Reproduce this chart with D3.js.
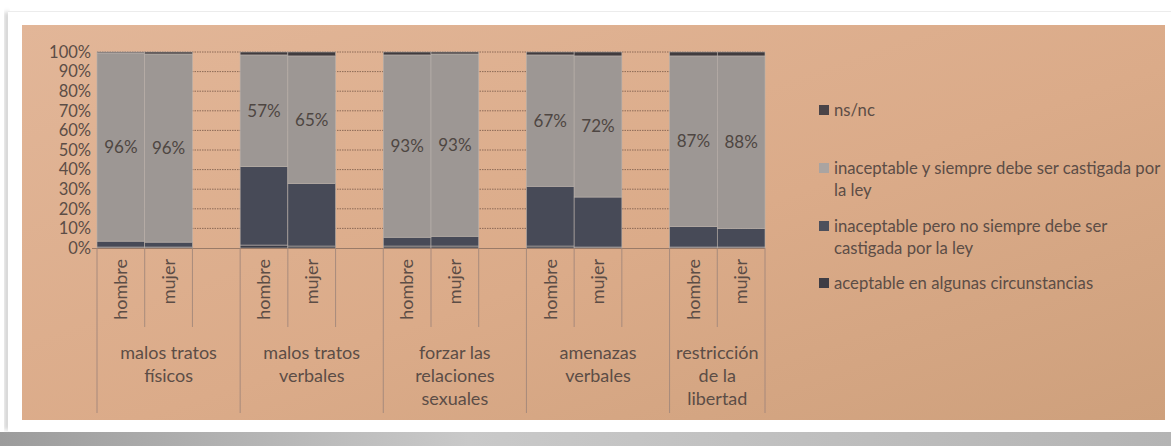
<!DOCTYPE html>
<html>
<head>
<meta charset="utf-8">
<script src="https://cdn.jsdelivr.net/npm/d3@7"></script>
<style>
  html, body { margin: 0; padding: 0; background: #fff; }
  svg { display: block; }
  text { font-family: Lato, "Open Sans", sans-serif; fill: #5c4d46; }
</style>
</head>
<body>
<div id="chart"></div>
<script>
// categories (multi-line labels as printed)
const groupLabels = [
  ["malos tratos", "físicos"],
  ["malos tratos", "verbales"],
  ["forzar las", "relaciones", "sexuales"],
  ["amenazas", "verbales"],
  ["restricción", "de la", "libertad"]
];
const sexes = ["hombre", "mujer"];

// series, bottom to top of each stack (one value per bar: g1 hombre, g1 mujer, g2 hombre, ...)
const seriesNames = [
  "aceptable en algunas circunstancias",
  "inaceptable pero no siempre debe ser castigada por la ley",
  "inaceptable y siempre debe ser castigada por la ley",
  "ns/nc"
];
const aceptable = [0.5, 0.5, 1.5, 1, 1, 1, 1, 0.5, 0.5, 0.5];
const peroNo    = [3, 2.5, 40, 32, 4.5, 5, 30.5, 25.5, 10.5, 9.5];
const siempre   = [96, 96, 57, 65, 93, 93, 67, 72, 87, 88];
const nsnc      = [0.5, 1, 1.5, 2, 1.5, 1, 1.5, 2, 2, 2];

// legend shows series top-down like the original
const legendLines = [
  ["ns/nc"],
  ["inaceptable y siempre debe ser castigada por", "la ley"],
  ["inaceptable pero no siempre debe ser", "castigada por la ley"],
  ["aceptable en algunas circunstancias"]
];

const yTicks = [0, 10, 20, 30, 40, 50, 60, 70, 80, 90, 100];

const W = 1171, H = 446;
const COLORS = {
  "aceptable en algunas circunstancias": "#3c3d47",
  "inaceptable pero no siempre debe ser castigada por la ley": "#474a57",
  "inaceptable y siempre debe ser castigada por la ley": "#9d9794",
  "ns/nc": "#403b3e"
};
const LEGEND_COLORS = ["#4a4448", "#aaa4a1", "#4d4f5b", "#3e3d45"];

const svg = d3.select("#chart").append("svg")
  .attr("width", W).attr("height", H);

const defs = svg.append("defs");
const bg = defs.append("linearGradient").attr("id", "paper")
  .attr("x1", "0%").attr("y1", "0%").attr("x2", "100%").attr("y2", "100%");
bg.append("stop").attr("offset", "0%").attr("stop-color", "#e2b698");
bg.append("stop").attr("offset", "55%").attr("stop-color", "#dbab89");
bg.append("stop").attr("offset", "100%").attr("stop-color", "#cea07c");

const shade = defs.append("linearGradient").attr("id", "shade")
  .attr("x1", "0%").attr("y1", "0%").attr("x2", "100%").attr("y2", "0%");
shade.append("stop").attr("offset", "0%").attr("stop-color", "#9c9c9c");
shade.append("stop").attr("offset", "40%").attr("stop-color", "#c9c9c9");
shade.append("stop").attr("offset", "100%").attr("stop-color", "#b4b4b4");

const blur = defs.append("filter").attr("id", "soft")
  .attr("x", "-5%").attr("y", "-50%").attr("width", "110%").attr("height", "200%");
blur.append("feGaussianBlur").attr("stdDeviation", 2);

// frame: shadow + white mat + peach print
svg.append("rect").attr("x", 0).attr("y", 432).attr("width", W).attr("height", 14)
  .attr("fill", "url(#shade)");
svg.append("rect").attr("x", 5).attr("y", 12).attr("width", 4).attr("height", 418)
  .attr("fill", "#c4c4c4").attr("filter", "url(#soft)");
svg.append("rect").attr("x", 8).attr("y", 11).attr("width", W - 8).attr("height", 420)
  .attr("fill", "#fff");
svg.append("line").attr("x1", 8).attr("x2", W).attr("y1", 11.5).attr("y2", 11.5)
  .attr("stroke", "#ececec");
svg.append("rect").attr("x", 22).attr("y", 25).attr("width", 1143).attr("height", 395)
  .attr("fill", "url(#paper)");

// scales
const slots = [];
groupLabels.forEach((g, gi) => {
  sexes.forEach(s => slots.push({ key: `${gi}-${s}`, group: gi, sex: s }));
  if (gi < groupLabels.length - 1) slots.push({ key: `${gi}-gap`, group: gi, sex: null });
});
const x = d3.scaleBand().domain(slots.map(d => d.key)).range([97, 765]).padding(0);
const y = d3.scaleLinear().domain([0, 100]).range([248, 52]);

// rows for stacking
const barKeys = slots.filter(d => d.sex).map(d => d.key);
const rows = barKeys.map((k, i) => ({
  key: k,
  [seriesNames[0]]: aceptable[i],
  [seriesNames[1]]: peroNo[i],
  [seriesNames[2]]: siempre[i],
  [seriesNames[3]]: nsnc[i]
}));
const stacked = d3.stack().keys(seriesNames)(rows);

// gridlines
const grid = svg.append("g");
grid.selectAll("line").data(yTicks.filter(t => t > 0)).join("line")
  .attr("x1", 97).attr("x2", 765)
  .attr("y1", d => y(d)).attr("y2", d => y(d))
  .attr("stroke", "#8c6a57").attr("stroke-width", 1)
  .attr("stroke-dasharray", "1.5,1");

// bars
const barG = svg.append("g");
barG.selectAll("g").data(stacked).join("g")
  .attr("fill", d => COLORS[d.key])
  .selectAll("rect").data(d => d).join("rect")
  .attr("x", d => x(d.data.key))
  .attr("width", x.bandwidth())
  .attr("y", d => y(d[1]))
  .attr("height", d => y(d[0]) - y(d[1]))
  .attr("stroke", "#b9b1ab").attr("stroke-width", 0.6);

// data labels on the "siempre" series
const lab = stacked[2];
svg.append("g").selectAll("text").data(lab).join("text")
  .attr("x", d => x(d.data.key) + x.bandwidth() / 2)
  .attr("y", d => y((d[0] + d[1]) / 2))
  .attr("dy", "0.35em")
  .attr("text-anchor", "middle")
  .style("font-size", "17px")
  .style("fill", "#4e4642")
  .text(d => d3.format(".0f")(d[1] - d[0]) + "%");

// y axis labels
svg.append("g").selectAll("text").data(yTicks).join("text")
  .attr("x", 91).attr("y", d => y(d)).attr("dy", "0.35em")
  .attr("text-anchor", "end")
  .style("font-size", "16.5px")
  .text(d => d + "%");

// x axis line
svg.append("line").attr("x1", 92).attr("x2", 765).attr("y1", 248.5).attr("y2", 248.5)
  .attr("stroke", "#9a7b68").attr("stroke-width", 1);

// category dividers below the axis
const bounds = [];
slots.forEach((s, i) => {
  const x0 = x(s.key);
  const first = i === 0 || slots[i - 1].group !== s.group;
  bounds.push({ x: x0, long: first });
});
bounds.push({ x: x.range()[1], long: true });
svg.append("g").selectAll("line").data(bounds).join("line")
  .attr("x1", d => d.x).attr("x2", d => d.x)
  .attr("y1", 248).attr("y2", d => d.long ? 413 : 327)
  .attr("stroke", "#a2877a").attr("stroke-width", 0.9);

// sex labels (rotated)
svg.append("g").selectAll("text").data(slots.filter(d => d.sex)).join("text")
  .attr("transform", d => `translate(${x(d.key) + x.bandwidth() / 2},259) rotate(-90)`)
  .attr("dy", "0.35em")
  .attr("text-anchor", "end")
  .style("font-size", "18px")
  .text(d => d.sex);

// group labels
const groupCenters = groupLabels.map((g, gi) => {
  const ks = slots.filter(s => s.group === gi);
  const x0 = x(ks[0].key), x1 = x(ks[ks.length - 1].key) + x.bandwidth();
  return { lines: g, cx: (x0 + x1) / 2 };
});
const gl = svg.append("g").selectAll("text").data(groupCenters).join("text")
  .attr("text-anchor", "middle")
  .style("font-size", "18px");
gl.selectAll("tspan").data(d => d.lines.map(l => ({ l, cx: d.cx }))).join("tspan")
  .attr("x", d => d.cx)
  .attr("y", (d, i) => 359 + i * 23)
  .text(d => d.l);

// legend
const legendY = [110, 168, 226, 283];
const lg = svg.append("g").selectAll("g").data(legendLines).join("g")
  .attr("transform", (d, i) => `translate(819,${legendY[i]})`);
lg.append("rect").attr("x", 0).attr("y", -5).attr("width", 10).attr("height", 10)
  .attr("fill", (d, i) => LEGEND_COLORS[i]);
lg.append("text").style("font-size", "16.7px")
  .selectAll("tspan").data(d => d).join("tspan")
  .attr("x", 15).attr("y", (d, i) => i * 22).attr("dy", "0.35em")
  .text(d => d);
</script>
</body>
</html>
